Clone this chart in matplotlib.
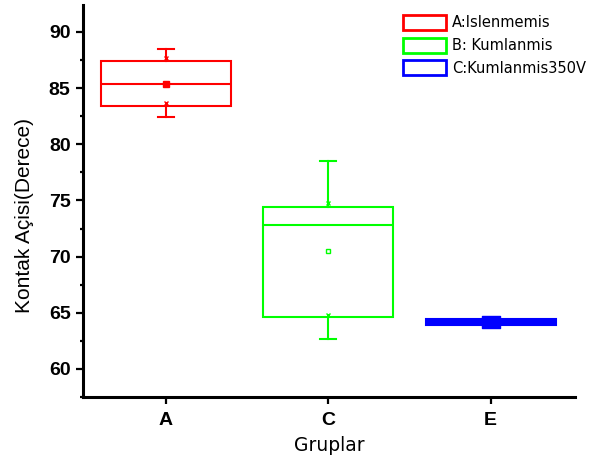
import matplotlib
matplotlib.use('Agg')
import matplotlib.pyplot as plt
from matplotlib.patches import Patch
from matplotlib.path import Path
from matplotlib.ticker import MultipleLocator

# box summary values
groups = ['A', 'C', 'E']
legend_labels = ['A:Islenmemis', 'B: Kumlanmis', 'C:Kumlanmis350V']
whislo = [82.45, 62.7, 63.95]
q1 = [83.4, 64.6, 63.95]
med = [85.35, 72.8, 64.2]
q3 = [87.45, 74.4, 64.45]
whishi = [88.45, 78.5, 64.45]
means = [85.35, 70.5, 64.2]
pct1 = [83.7, 64.8, 64.2]
pct99 = [87.7, 74.8, 64.2]

colors = ['#ff0000', '#00ff00', '#0000ff']
fills = ['white', 'white', '#0000ff']

plt.rcParams['font.family'] = ['Liberation Sans', 'DejaVu Sans']

fig = plt.figure(figsize=(6.07, 4.59), dpi=100)
ax = fig.add_axes([83 / 607, 1 - 397 / 459, 492 / 607, 392 / 459])

stats = []
for i in range(len(groups)):
    stats.append({'med': med[i], 'q1': q1[i], 'q3': q3[i],
                  'whislo': whislo[i], 'whishi': whishi[i],
                  'mean': means[i], 'fliers': []})

pos = [1, 2, 3]
bp = ax.bxp(stats, positions=pos, widths=0.8, showmeans=True,
            patch_artist=True, capwidths=0.1, showfliers=False)

rect = Path([(-1.6, -1), (1.6, -1), (1.6, 1), (-1.6, 1), (-1.6, -1)],
            [Path.MOVETO, Path.LINETO, Path.LINETO, Path.LINETO, Path.CLOSEPOLY])
mean_style = [dict(marker='s', markersize=4.5, markerfacecolor=colors[0]),
              dict(marker='s', markersize=3.5, markerfacecolor='white'),
              dict(marker=rect, markersize=13, markerfacecolor=colors[2])]

for i, c in enumerate(colors):
    bp['boxes'][i].set(facecolor=fills[i], edgecolor=c, linewidth=1.5)
    bp['medians'][i].set(color=c, linewidth=1.5)
    for j in (2 * i, 2 * i + 1):
        bp['whiskers'][j].set(color=c, linewidth=1.5)
        bp['caps'][j].set(color=c, linewidth=1.5)
    bp['means'][i].set(markeredgecolor=c, markeredgewidth=1, **mean_style[i])
    ax.plot([pos[i], pos[i]], [pct1[i], pct99[i]], ls='none', marker='x',
            ms=3, mew=1, color=c, zorder=4)

ax.set_xlim(0.49, 3.52)
ax.set_ylim(57.5, 92.4)
ax.set_xticks(pos)
ax.set_xticklabels(groups)
ax.yaxis.set_major_locator(MultipleLocator(5))
ax.yaxis.set_minor_locator(MultipleLocator(2.5))
ax.set_yticks(range(60, 91, 5))

for s in ('top', 'right'):
    ax.spines[s].set_visible(False)
for s in ('left', 'bottom'):
    ax.spines[s].set_linewidth(2.2)

ax.tick_params(axis='both', which='major', length=5, width=1.6, labelsize=14)
ax.tick_params(axis='x', which='major', pad=6)
ax.tick_params(axis='y', which='major', pad=4)
ax.tick_params(axis='y', which='minor', length=2.5, width=1.6)
for lab in ax.get_xticklabels() + ax.get_yticklabels():
    lab.set_fontweight('bold')

ax.set_xlabel('Gruplar', fontsize=13.5, family='DejaVu Sans', labelpad=5)
ax.set_ylabel('Kontak Açisi(Derece)', fontsize=15)
ax.yaxis.set_label_coords(-0.1, 0.464)

handles = [Patch(facecolor='white', edgecolor=c, linewidth=2) for c in colors]
fig.legend(handles, legend_labels, loc='upper left',
           bbox_to_anchor=(403 / 607, 1 - 15 / 459), frameon=False,
           prop={'family': 'DejaVu Sans', 'size': 10.5},
           handlelength=2.95, handleheight=1.2,
           handletextpad=0.4, labelspacing=0.5,
           borderpad=0, borderaxespad=0)

fig.savefig('out.png', dpi=100)
